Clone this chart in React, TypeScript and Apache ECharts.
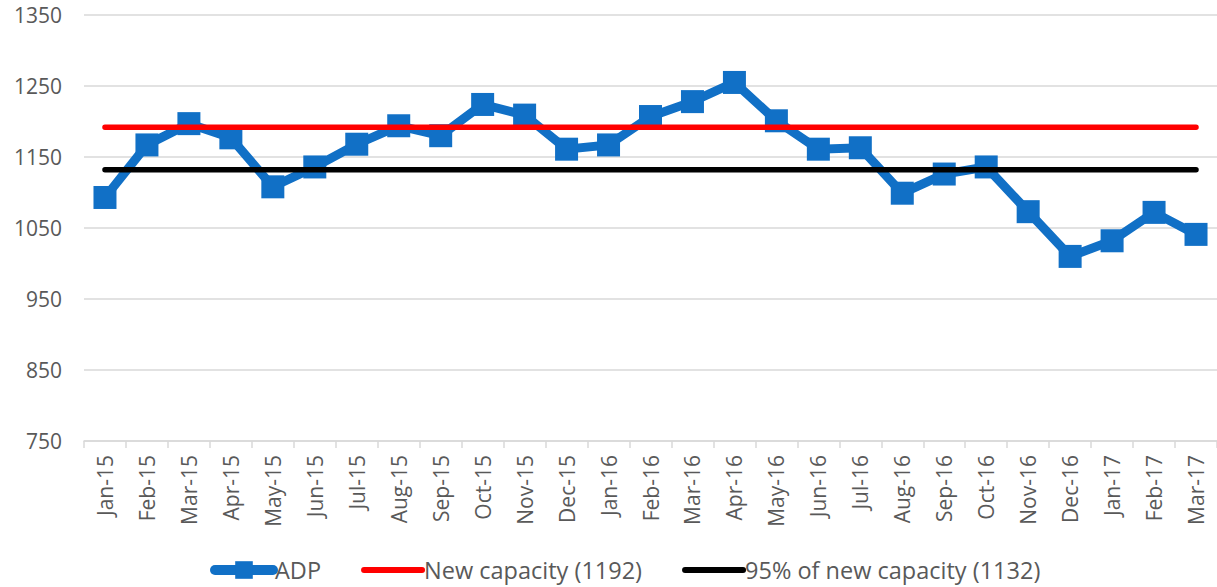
import React, { useEffect, useRef } from "react";
import * as echarts from "echarts";

const categories = [
  "Jan-15", "Feb-15", "Mar-15", "Apr-15", "May-15", "Jun-15", "Jul-15", "Aug-15", "Sep-15",
  "Oct-15", "Nov-15", "Dec-15", "Jan-16", "Feb-16", "Mar-16", "Apr-16", "May-16", "Jun-16",
  "Jul-16", "Aug-16", "Sep-16", "Oct-16", "Nov-16", "Dec-16", "Jan-17", "Feb-17", "Mar-17",
];
const adpValues = [
  1093, 1167, 1197, 1177, 1108, 1136, 1168, 1194, 1180, 1224, 1209, 1161, 1167, 1207,
  1228, 1255, 1201, 1161, 1163, 1099, 1126, 1136, 1073, 1010, 1032, 1072, 1041,
];
const newCapacity = 1192;
const capacity95 = 1132;
const seriesNames = ["ADP", "New capacity (1192)", "95% of new capacity (1132)"];
const yMin = 750;
const yMax = 1350;

const FONT = "'Open Sans', 'Noto Sans', sans-serif";
const TEXT = "#595959";
const GRID = "#d9d9d9";
const BLUE = "#1170c6";

export default function App() {
  const ref = useRef<HTMLDivElement>(null);
  useEffect(() => {
    if (!ref.current) return;
    const chart = echarts.init(ref.current, undefined, { renderer: "svg" });
    chart.setOption({
      animation: false,
      textStyle: { fontFamily: FONT },
      grid: { left: 84, top: 15, width: 1140, height: 426, containLabel: false },
      legend: {
        bottom: 0,
        left: 205,
        itemGap: 40,
        itemWidth: 58,
        itemHeight: 22,
        textStyle: { color: TEXT, fontSize: 23.5, fontFamily: FONT, padding: [0, 0, 0, -3] },
        data: [
          {
            name: seriesNames[0],
            lineStyle: { width: 10, cap: "round", color: BLUE },
            itemStyle: { color: BLUE },
          },
          {
            name: seriesNames[1],
            lineStyle: { width: 6, cap: "round", color: "#ff0000" },
            itemStyle: { opacity: 0 },
          },
          {
            name: seriesNames[2],
            lineStyle: { width: 6, cap: "round", color: "#000000" },
            itemStyle: { opacity: 0 },
          },
        ],
      },
      xAxis: {
        type: "category",
        data: categories,
        boundaryGap: true,
        axisLine: { lineStyle: { color: GRID, width: 1.5 } },
        axisTick: { show: true, length: 7, lineStyle: { color: GRID, width: 1.5 } },
        axisLabel: {
          rotate: 90,
          interval: 0,
          margin: 14,
          color: TEXT,
          fontSize: 21,
          fontFamily: FONT,
        },
      },
      yAxis: {
        type: "value",
        min: yMin,
        max: yMax,
        interval: 50,
        axisLine: { show: false },
        axisTick: { show: false },
        axisLabel: {
          margin: 22,
          color: TEXT,
          fontSize: 21,
          fontFamily: FONT,
          formatter: (v: number) => ((v - yMin) % 100 === 0 ? String(v) : ""),
        },
        splitLine: { show: true, lineStyle: { color: [GRID, "rgba(0,0,0,0)"], width: 1.5 } },
      },
      series: [
        {
          name: seriesNames[0],
          type: "line",
          data: adpValues,
          symbol: "rect",
          symbolSize: 23,
          itemStyle: { color: BLUE },
          lineStyle: { color: BLUE, width: 9, cap: "round", join: "miter" },
          z: 3,
        },
        {
          name: seriesNames[1],
          type: "line",
          data: categories.map(() => newCapacity),
          symbol: "none",
          itemStyle: { color: "#ff0000" },
          lineStyle: { color: "#ff0000", width: 5.5, cap: "round" },
          z: 4,
        },
        {
          name: seriesNames[2],
          type: "line",
          data: categories.map(() => capacity95),
          symbol: "none",
          itemStyle: { color: "#000000" },
          lineStyle: { color: "#000000", width: 5.5, cap: "round" },
          z: 4,
        },
      ],
    });
    return () => chart.dispose();
  }, []);
  return (
    <div
      ref={ref}
      style={{ position: "fixed", left: 0, top: 0, width: 1217, height: 587, background: "#fff" }}
    />
  );
}
